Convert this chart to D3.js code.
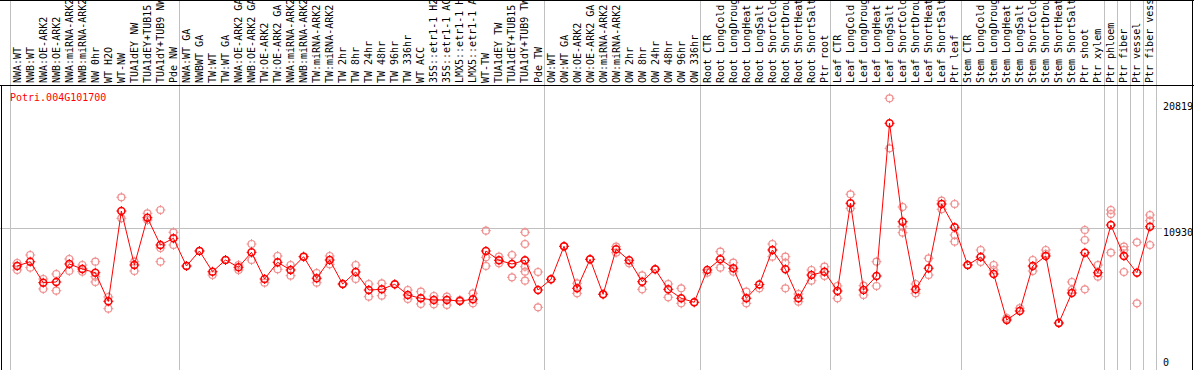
<!DOCTYPE html>
<html><head><meta charset="utf-8">
<script src="https://cdn.jsdelivr.net/npm/d3@7"></script>
<style>body{margin:0;background:#fff}svg{display:block}</style>
</head><body>
<script>
const title = "Potri.004G101700";
const labels = [
"NWA:WT","NWB:WT","NWA:OE-ARK2","NWB:OE-ARK2","NWA:miRNA-ARK2","NWB:miRNA-ARK2","NW 0hr","WT H2O","WT-NW","TUA1dEY NW","TUA1dEY+TUB15 NW","TUA1dY+TUB9 NW","Pde NW",
"NWA:WT GA","NWBWT GA","TW:WT","TW:WT GA","NWA:OE-ARK2 GA","NWB:OE-ARK2 GA","TW:OE-ARK2","TW:OE-ARK2 GA","NWA:miRNA-ARK2","NWB:miRNA-ARK2","TW:miRNA-ARK2","TW:miRNA-ARK2","TW 2hr","TW 8hr","TW 24hr","TW 48hr","TW 96hr","TW 336hr","WT ACC","35S::etr1-1 H2O","35S::etr1-1 ACC","LMX5::etr1-1 H2O","LMX5::etr1-1 ACC","WT-TW","TUA1dEY TW","TUA1dEY+TUB15 TW","TUA1dY+TUB9 TW","Pde TW",
"OW:WT","OW:WT GA","OW:OE-ARK2","OW:OE-ARK2 GA","OW:miRNA-ARK2","OW:miRNA-ARK2","OW 2hr","OW 8hr","OW 24hr","OW 48hr","OW 96hr","OW 336hr",
"Root CTR","Root LongCold","Root LongDrought","Root LongHeat","Root LongSalt","Root ShortCold","Root ShortDrought","Root ShortHeat","Root ShortSalt","Ptr root",
"Leaf CTR","Leaf LongCold","Leaf LongDrought","Leaf LongHeat","Leaf LongSalt","Leaf ShortCold","Leaf ShortDrought","Leaf ShortHeat","Leaf ShortSalt","Ptr leaf",
"Stem CTR","Stem LongCold","Stem LongDrought","Stem LongHeat","Stem LongSalt","Stem ShortCold","Stem ShortDrought","Stem ShortHeat","Stem ShortSalt","Ptr shoot","Ptr xylem",
"Ptr phloem","Ptr fiber","Ptr vessel","Ptr fiber vessel"
];
const groupBreaks = [0,13,41,53,63,73,84,85,86,87,88];
const means = [
7735,8097,6331,6390,7904,7483,7172,4767,12360,7819,11797,9501,10064,
7735,8997,7256,8240,7626,8887,6642,8047,7399,8517,6701,8240,6222,7231,5717,5776,6197,5297,5020,4877,4877,4793,4935,8997,8215,7904,8215,5717,
6617,9392,5860,8299,5356,9140,8215,6415,7458,5776,5020,4683,
7399,8299,7542,5020,6180,9081,7458,5020,6979,7256,
5633,13007,5717,6895,19734,11460,5776,7542,12948,10989,
7819,8492,7063,3195,3952,7735,8576,2943,5465,8854,7172,
11183,8576,7172,11040
];
const reps = [
[7988,7399],[8660,7592],[6642,5802],[7063,5659],[8324,7315],[7819,7256],[8097,6836,6390],[5129,4145],[13512,11746],[8097,7315],[12167,11603],[12444,9249,8097],[10569,9501],
[7735],[8997],[6979],[8240],[7819,7399],[9585,8240],[6331],[8576,7458],[7819,6920],[8517],[7147,6331],[8576,7878],[6222],[7819,6642],[6222,5154],[6281,5238],[6197],[5717,4961],[5575,4540],[5213,4515],[5154,4456],[4877],[5440,4599],[10703,8467,7735],[8517,7962],[8660,6785],[10569,9585,7676,7256,6499],[7231,4263],
[6617],[9392],[6281,5440],[8299],[5356],[9358,8854],[7962],[6953,5776],[7458],[6222,5104],[5860,4599],[4683],
[7172],[8938,7592],[8013,7256],[5575,4599],[5860],[9585,8517],[8517,8013,5860],[5381,4734],[7399,6499],[7676,6895],
[6054,5020],[13764,12587],[6079,5297],[8097,6054],[21836,17632],[12696,11040,10535],[6222,5440],[8383,6979],[13226,12503],[12948,10342,9779],
[7819],[9081,8072],[7819,7399],[3363],[4200],[8240,7315],[9081,8744],[2943],[6390,5717],[10762,9921,5776],[7819,6836],
[12444,12108,8854],[9358,9081,7231],[9728,4599],[12024,11544,9501]
];
const yTicks = [0,10930,20819];

const W = 1194, H = 370;
const svg = d3.select("body").append("svg").attr("width", W).attr("height", H);
const font = "'DejaVu Sans Mono', monospace";

const x = d3.scaleBand().domain(d3.range(labels.length)).range([10.2, 10.2 + labels.length * 13.02]);
const y = d3.scaleLinear().domain([0, 10930]).range([358, 228]);
const px = i => x(i) + 7;

svg.append("clipPath").attr("id","lc").append("rect").attr("x",0).attr("y",1).attr("width",W).attr("height",84);

svg.append("g").selectAll("line").data(groupBreaks).join("line")
  .attr("x1", d => Math.round(x(0) + d * x.step()) + 0.5)
  .attr("x2", d => Math.round(x(0) + d * x.step()) + 0.5)
  .attr("y1", 0).attr("y2", H).attr("stroke", "#c0c0c0").attr("stroke-width", 1);

svg.append("line").attr("x1", 0).attr("x2", 1162)
  .attr("y1", Math.round(y(yTicks[1])) + 0.5).attr("y2", Math.round(y(yTicks[1])) + 0.5)
  .attr("stroke", "#c0c0c0");

svg.append("line").attr("x1",0).attr("x2",W).attr("y1",0.5).attr("y2",0.5).attr("stroke","#000");
svg.append("line").attr("x1",0).attr("x2",W).attr("y1",85.5).attr("y2",85.5).attr("stroke","#000");
svg.append("line").attr("x1",1.5).attr("x2",1.5).attr("y1",85).attr("y2",H).attr("stroke","#000");
svg.append("line").attr("x1",W-1.5).attr("x2",W-1.5).attr("y1",0).attr("y2",H).attr("stroke","#000");

svg.append("g").attr("clip-path","url(#lc)").selectAll("text").data(labels).join("text")
  .attr("transform", (d,i) => `translate(${x(i) + 10.5},83) rotate(-90)`)
  .attr("font-family", font).attr("font-size", 10).attr("fill", "#000")
  .text(d => d);

svg.append("text").attr("x", 10).attr("y", 101).attr("font-family", font).attr("font-size", 10)
  .attr("fill", "#ff0000").text(title);

svg.append("g").selectAll("text").data(yTicks).join("text")
  .attr("x", 1163).attr("y", (d,i) => y(d) + (i === yTicks.length - 1 ? 0 : 7.5))
  .attr("font-family", font).attr("font-size", 10).attr("fill", "#000")
  .text(d => d);

function marker(g, color, r, sw) {
  g.append("circle").attr("r", r).attr("fill", "none").attr("stroke", color).attr("stroke-width", sw);
  [[0,-1],[0,1],[-1,0],[1,0]].forEach(([dx,dy]) => {
    g.append("line").attr("x1", dx*(r-1)).attr("y1", dy*(r-1)).attr("x2", dx*(r+1.5)).attr("y2", dy*(r+1.5))
      .attr("stroke", color).attr("stroke-width", 1);
  });
}

const repData = [];
reps.forEach((arr, i) => arr.forEach(v => repData.push({i, v})));
svg.append("g").selectAll("g").data(repData).join("g")
  .attr("transform", d => `translate(${px(d.i)},${y(d.v)})`)
  .each(function(){ marker(d3.select(this), "#f09090", 3.5, 1.2); });

svg.append("path").datum(means)
  .attr("d", d3.line().x((d,i) => px(i)).y(d => y(d)))
  .attr("fill", "none").attr("stroke", "#ff0000").attr("stroke-width", 1);

svg.append("g").selectAll("g").data(means).join("g")
  .attr("transform", (d,i) => `translate(${px(i)},${y(d)})`)
  .each(function(){ marker(d3.select(this), "#ff0000", 3.5, 1.5); });
</script>
</body></html>
